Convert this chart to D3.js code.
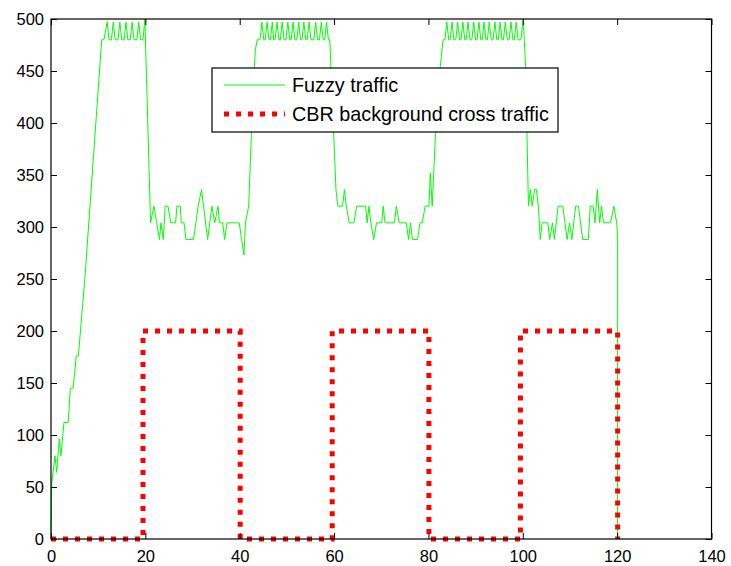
<!DOCTYPE html>
<html>
<head>
<meta charset="utf-8">
<script src="https://cdn.jsdelivr.net/npm/d3@7"></script>
<style>
  body { margin: 0; background: #fff; }
  text { font-family: "Liberation Sans", Arial, sans-serif; }
</style>
</head>
<body>
<div id="chart"></div>
<script>
var xTicks = [0, 20, 40, 60, 80, 100, 120, 140];
var yTicks = [0, 50, 100, 150, 200, 250, 300, 350, 400, 450, 500];
var seriesNames = ["Fuzzy traffic", "CBR background cross traffic"];

// fuzzy traffic, [time, value]
var fuzzyTraffic = [
  [0,0],[0.15,53],[0.85,80],[1.2,64],[1.75,96],[2.1,80],[2.75,112],[3.65,112],[4.1,145],[4.7,145],
  [5.35,176],[5.8,176],[7.2,252],[10.75,480],[11.2,480],
  [11.9,497],[12.3,480],[12.8,480],[13.2,497],[13.6,480],[14.2,480],[14.6,497],[15.0,480],[15.5,480],
  [15.9,497],[16.3,480],[16.8,480],[17.2,497],[17.6,480],[18.2,480],[18.6,497],[19.0,480],[19.5,480],[19.9,500],
  [21.1,304],[21.8,320],[22.4,304],[23.0,288],[23.3,304],[23.8,288],[24.2,320],[24.8,320],[25.4,304],
  [26.4,304],[26.7,320],[27.4,320],[27.6,304],[28.2,304],[28.6,288],[30.2,288],[31.2,320],[31.9,336],
  [33.2,288],[34.1,320],[34.7,304],[35.4,320],[35.7,304],[36.4,304],[36.8,288],[37.3,304],[39.9,304],
  [40.4,288],[40.9,273],[41.2,304],[41.9,320],[42.3,368],[42.7,416],[43.3,470],[43.7,480],[44.3,480],
  [44.7,497],[45.1,480],[45.4,480],[45.8,497],[46.2,480],[46.5,480],[46.9,497],[47.2,480],[47.5,480],
  [47.9,497],[48.3,480],[48.6,480],[49.0,497],[49.4,480],[49.8,480],[50.2,497],[50.6,480],[50.9,480],
  [51.3,497],[51.7,480],[52.1,480],[52.5,497],[52.9,480],[53.2,480],[53.6,497],[54.0,480],[54.3,480],
  [54.7,497],[55.1,480],[55.7,480],[56.1,497],[56.5,480],[56.9,480],[57.3,497],[57.7,480],[58.0,480],
  [58.4,497],[58.8,480],[59.1,480],
  [60.4,336],[60.8,320],[61.8,320],[62.2,336],[62.6,320],[63.2,304],[64.2,304],[64.8,320],[66.7,320],
  [67.0,304],[67.4,320],[67.8,304],[68.4,288],[69.0,304],[70.1,304],[70.4,320],[70.8,304],[72.8,304],
  [73.2,320],[73.8,304],[75.3,304],[75.8,288],[76.2,304],[76.6,288],[77.7,288],[78.2,304],[78.7,304],
  [79.3,320],[80.1,320],[80.4,352],[80.8,320],[81.5,390],[82.5,454],[83.1,480],[83.5,480],
  [83.9,497],[84.3,480],[84.6,480],[85.0,497],[85.4,480],[85.8,480],[86.2,497],[86.6,480],[86.9,480],
  [87.3,497],[87.7,480],[88.0,480],[88.4,497],[88.8,480],[89.2,480],[89.6,497],[90.0,480],[90.3,480],
  [90.7,497],[91.1,480],[91.4,480],[91.8,497],[92.2,480],[92.5,480],[92.9,497],[93.3,480],[93.7,480],
  [94.1,497],[94.5,480],[94.8,480],[95.2,497],[95.6,480],[95.9,480],[96.3,497],[96.7,480],[97.1,480],
  [97.5,497],[97.9,480],[98.2,480],[98.6,497],[99.0,480],[99.6,480],[100.1,500],
  [100.6,454],[101.2,320],[101.6,336],[102.0,320],[102.5,336],[102.9,336],[103.3,320],[103.7,288],
  [104.1,304],[105.3,304],[105.7,288],[106.3,304],[106.7,288],[107.5,320],[108.5,320],[109.4,288],
  [109.9,304],[110.4,288],[111.2,320],[111.8,320],[112.7,288],[113.9,288],[114.3,320],[114.9,320],
  [115.3,304],[115.8,336],[116.3,304],[116.7,320],[117.1,304],[118.6,304],[119.3,320],[119.9,304],
  [120.1,290],[120.1,0]
];

// CBR background cross traffic, [time, value]
var cbrTraffic = [
  [0,0],[19.5,0],[19.5,200],[40.1,200],[40.1,0],[59.6,0],[59.6,200],[80.1,200],[80.1,0],
  [99.5,0],[99.5,200],[120.1,200],[120.1,0]
];

var width = 731, height = 566;
var plotLeft = 51, plotRight = 711.5, plotTop = 19, plotBottom = 539;

var svg = d3.select("#chart").append("svg")
  .attr("width", width)
  .attr("height", height);

var x = d3.scaleLinear().domain([0, 140]).range([plotLeft, plotRight]);
var y = d3.scaleLinear().domain([0, 500]).range([plotBottom, plotTop]);

var line = d3.line()
  .x(function(d) { return x(d[0]); })
  .y(function(d) { return y(d[1]); });

svg.append("path")
  .datum(fuzzyTraffic)
  .attr("d", line)
  .style("fill", "none")
  .style("stroke", "#00ff00")
  .style("stroke-width", 1);

svg.append("path")
  .datum(cbrTraffic)
  .attr("d", line)
  .style("fill", "none")
  .style("stroke", "#ff0000")
  .style("stroke-width", 5)
  .style("stroke-dasharray", "5,7");

// axes: ticks inward, on all four sides
var tickSize = 6;
svg.append("g")
  .attr("transform", "translate(0," + plotBottom + ")")
  .call(d3.axisBottom(x).tickValues(xTicks).tickSize(-tickSize).tickPadding(11.5))
  .call(function(g) { g.select(".domain").remove(); });
svg.append("g")
  .attr("transform", "translate(0," + plotTop + ")")
  .call(d3.axisTop(x).tickValues(xTicks).tickSize(-tickSize).tickFormat(""))
  .call(function(g) { g.select(".domain").remove(); });
svg.append("g")
  .attr("transform", "translate(" + plotLeft + ",0)")
  .call(d3.axisLeft(y).tickValues(yTicks).tickSize(-tickSize).tickPadding(7))
  .call(function(g) { g.select(".domain").remove(); });
svg.append("g")
  .attr("transform", "translate(" + plotRight + ",0)")
  .call(d3.axisRight(y).tickValues(yTicks).tickSize(-tickSize).tickFormat(""))
  .call(function(g) { g.select(".domain").remove(); });

svg.selectAll(".tick line").style("stroke", "#000");
svg.selectAll(".tick text")
  .style("font-size", "16.5px")
  .style("fill", "#000");

svg.append("rect")
  .attr("x", plotLeft).attr("y", plotTop)
  .attr("width", plotRight - plotLeft).attr("height", plotBottom - plotTop)
  .style("fill", "none")
  .style("stroke", "#000")
  .style("stroke-width", 1.2);

// legend
var legend = svg.append("g").attr("transform", "translate(212,68)");
legend.append("rect")
  .attr("width", 346).attr("height", 64)
  .style("fill", "#fff")
  .style("stroke", "#000")
  .style("stroke-width", 1.2);
legend.append("line")
  .attr("x1", 12).attr("x2", 73).attr("y1", 17).attr("y2", 17)
  .style("stroke", "#00ff00").style("stroke-width", 1);
legend.append("line")
  .attr("x1", 12).attr("x2", 73).attr("y1", 46).attr("y2", 46)
  .style("stroke", "#ff0000").style("stroke-width", 5)
  .style("stroke-dasharray", "5,7");
legend.selectAll("text.name")
  .data(seriesNames)
  .enter().append("text")
  .attr("class", "name")
  .attr("x", 80)
  .attr("y", function(d, i) { return 24 + i * 29; })
  .style("font-size", "19.8px")
  .text(function(d) { return d; });
</script>
</body>
</html>
